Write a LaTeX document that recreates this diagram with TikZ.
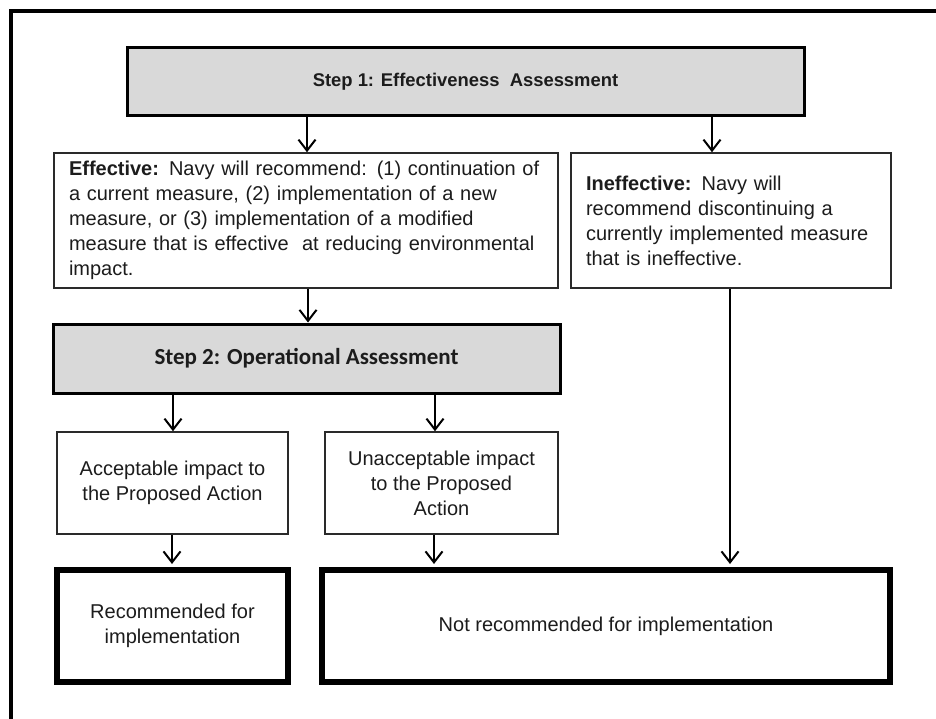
\documentclass[tikz,border=0pt]{standalone}
\usepackage{fontspec}
\setmainfont{Liberation Sans}
\newfontfamily\calfont{Carlito}
\usetikzlibrary{arrows.meta}
\definecolor{ink}{HTML}{1C1C1C}
\definecolor{stepgray}{HTML}{D9D9D9}
\definecolor{boxline}{HTML}{2A2A2A}
\begin{document}
\begin{tikzpicture}[x=1pt,y=-1pt,
  txt/.style={font=\fontsize{20}{25}\selectfont, text=ink},
  box/.style={draw=boxline, line width=1.5pt, rectangle, inner sep=0pt, txt},
  stepbox/.style={draw=black, line width=3pt, fill=stepgray, rectangle, inner sep=0pt, text=ink},
  endbox/.style={draw=black, line width=6pt, rectangle, inner sep=0pt, txt, align=center},
  arr/.style={draw=black, line width=2pt, -{Straight Barb[length=11pt,width=17pt,line width=2pt]}}
]
\useasboundingbox (0,0) rectangle (936,719);
\fill[white] (0,0) rectangle (936,719);
% frame
\draw[line width=4pt] (10.5,719) -- (10.5,11) -- (936,11);

\node[stepbox, minimum width=677pt, minimum height=68pt,
      font=\fontsize{18.4}{22}\selectfont\bfseries] (s1) at (465.5,82)
      {Step 1: Effectiveness\ \ Assessment};

\node[box, minimum width=504pt, minimum height=135pt, text width=474pt, align=left] (eff) at (306,220.5)
  {\textbf{Effective:} Navy will recommend: (1) continuation of\\
   a current measure, (2) implementation of a new\\
   measure, or (3) implementation of a modified\\
   measure that is effective\ \ at reducing environmental\\
   impact.};

\node[box, minimum width=320pt, minimum height=135pt, text width=290pt, align=left] (ineff) at (731,220.5)
  {\textbf{Ineffective:} Navy will\\
   recommend discontinuing a\\
   currently implemented measure\\
   that is ineffective.};

\node[stepbox, minimum width=507pt, minimum height=69pt,
      font=\calfont\fontsize{23}{27}\selectfont\bfseries] (s2) at (306.5,358.5)
      {Step 2: Operational Assessment};

\node[box, minimum width=231pt, minimum height=102pt, align=center] (acc) at (172.5,483)
  {Acceptable impact to\\ the Proposed Action};

\node[box, minimum width=233pt, minimum height=102pt, align=center] (unacc) at (441.5,483)
  {Unacceptable impact\\ to the Proposed\\ Action};

\node[endbox, minimum width=231pt, minimum height=112pt] (rec) at (172.5,626)
  {Recommended for\\ implementation};

\node[endbox, minimum width=568pt, minimum height=112pt] (nrec) at (606,626)
  {Not recommended for implementation};

% connectors
\draw[arr] (s1.south -| 307,0) -- (eff.north -| 307,0);
\draw[arr] (s1.south -| 712,0) -- (ineff.north -| 712,0);
\draw[arr] (eff.south -| 308,0) -- (s2.north -| 308,0);
\draw[arr] (s2.south -| 173,0) -- (acc.north -| 173,0);
\draw[arr] (s2.south -| 435,0) -- (unacc.north -| 435,0);
\draw[arr, shorten >=3pt] (acc.south -| 172,0) -- (rec.north -| 172,0);
\draw[arr, shorten >=3pt] (unacc.south -| 434,0) -- (nrec.north -| 434,0);
\draw[arr, shorten >=3pt] (ineff.south -| 730,0) -- (nrec.north -| 730,0);
\end{tikzpicture}
\end{document}
